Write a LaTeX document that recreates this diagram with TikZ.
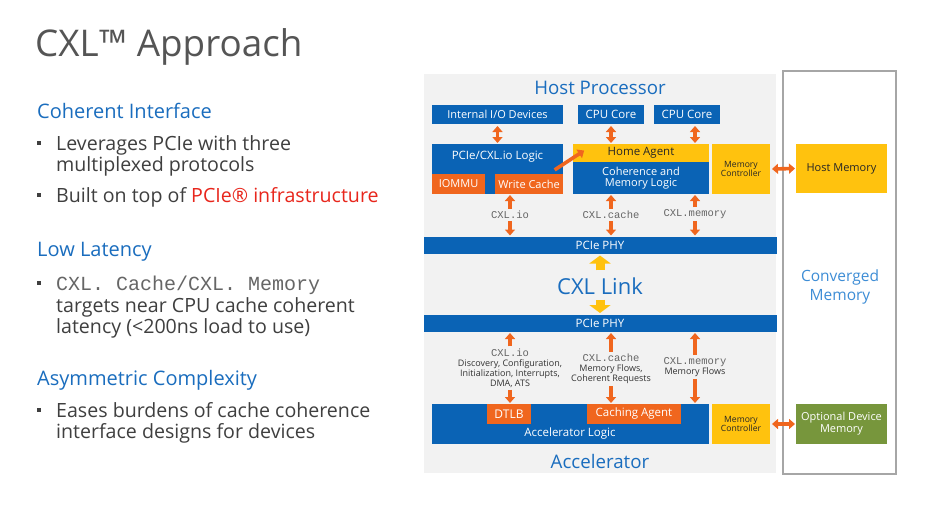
\documentclass[tikz,border=0pt]{standalone}
\usepackage{fontspec}
\setmainfont{Open Sans}
\setmonofont{Liberation Mono}
\usetikzlibrary{arrows.meta,positioning,calc}
\definecolor{cxlblue}{HTML}{0A63B5}
\definecolor{cxlorange}{HTML}{F0661E}
\definecolor{cxlyellow}{HTML}{FFC20E}
\definecolor{cxlgreen}{HTML}{77963C}
\definecolor{headblue}{HTML}{1A6DBE}
\definecolor{lightblue}{HTML}{3D8DD6}
\definecolor{titlegray}{HTML}{555555}
\definecolor{bodygray}{HTML}{3F3F3F}
\definecolor{protogray}{HTML}{666666}
\definecolor{panelgray}{HTML}{F2F2F2}
\definecolor{pcired}{HTML}{E8261C}
\newcommand*{\bulletsq}[1]{\fill[bodygray] (37,#1-9) rectangle (41,#1-5);}

\begin{document}
\begin{tikzpicture}[x=1pt, y=-1pt,
    box/.style={inner sep=0pt, outer sep=0pt, align=center, text=white, font=\fontsize{11.5}{12}\selectfont},
    bluebox/.style={box, fill=cxlblue},
    orangebox/.style={box, fill=cxlorange},
    yellowbox/.style={box, fill=cxlyellow, text=black!85},
    greenbox/.style={box, fill=cxlgreen},
    tinybox/.style={font=\fontsize{8.6}{9}\selectfont},
    link/.style={draw=cxlorange, line width=3.6pt, -{Triangle[width=10pt,length=6pt]}, shorten >=1pt, shorten <=2pt},
    dlink/.style={link, {Triangle[width=10pt,length=6pt]}-{Triangle[width=10pt,length=6pt]}},
    ylink/.style={draw=cxlyellow, line width=9pt, -{Triangle[width=21pt,length=8pt]}},
    proto/.style={inner sep=0pt, font=\ttfamily\fontsize{10.5}{11}\selectfont, text=protogray},
    note/.style={inner sep=0pt, align=center, font=\fontsize{9}{10}\selectfont, text=black!80},
    heading/.style={anchor=base west, inner sep=0pt, text=headblue, font=\fontsize{20}{24}\selectfont},
    body/.style={anchor=base west, inner sep=0pt, text=bodygray, font=\fontsize{19.6}{22}\selectfont},
    caption/.style={inner sep=0pt, text=headblue, font=\fontsize{18.7}{20}\selectfont}]
    \useasboundingbox (0,0) rectangle (937,504);
    \fill[white] (0,0) rectangle (937,504);

    % left column
    \node[anchor=base west, inner sep=0pt, text=titlegray, font=\fontsize{36.8}{40}\selectfont]
        (title) at (35,56) {CXL™ Approach};
    \node[heading] (coh) at (37,118) {Coherent Interface};
    \bulletsq{150}
    \node[body] (lev1) at (56,150) {Leverages PCIe with three};
    \node[body] (lev2) at (56,171) {multiplexed protocols};
    \bulletsq{202}
    \node[body] (built) at (56,202) {Built on top of \textcolor{pcired}{PCIe® infrastructure}};
    \node[heading] (lat) at (37,256) {Low Latency};
    \bulletsq{290}
    \node[body, text=protogray, font=\ttfamily\fontsize{20}{22}\selectfont] (lat1) at (56,290) {CXL. Cache/CXL. Memory};
    \node[body] (lat2) at (56,312) {targets near CPU cache coherent};
    \node[body] (lat3) at (56,333) {latency (<200ns load to use)};
    \node[heading] (asym) at (37,385) {Asymmetric Complexity};
    \bulletsq{417}
    \node[body] (eas1) at (56,417) {Eases burdens of cache coherence};
    \node[body] (eas2) at (56,438) {interface designs for devices};

    % diagram
    \fill[panelgray] (424,74) rectangle (776,473);
    \draw[black!35, line width=1.3pt] (783,71) rectangle (896,474);
    \node[caption] (hostp) at (600,88) {Host Processor};
    \node[caption] (accel) at (600,461) {Accelerator};
    \node[caption, text=lightblue, align=center, font=\fontsize{15.5}{19}\selectfont] (conv) at (840,287) {Converged\\Memory};

    \node[bluebox, minimum width=131, minimum height=19, font=\fontsize{11}{12}\selectfont] (iodev) at (497.5,114.5) {Internal I/O Devices};
    \node[bluebox, minimum width=66, minimum height=19] (core1) at (611,114.5) {CPU Core};
    \node[bluebox, minimum width=66, minimum height=19] (core2) at (687,114.5) {CPU Core};
    \node[bluebox, minimum width=131, minimum height=50] (iologic) at (497.5,169) {};
    \node[box] (iologictext) at (497.5,157) {PCIe/CXL.io Logic};
    \node[orangebox, minimum width=53, minimum height=20, font=\fontsize{11}{12}\selectfont] (iommu) at (458.5,184) {IOMMU};
    \node[orangebox, minimum width=68, minimum height=20, font=\fontsize{11}{12}\selectfont] (wcache) at (529,184) {Write Cache};
    \node[yellowbox, minimum width=136, minimum height=18] (home) at (641,153) {Home Agent};
    \node[bluebox, minimum width=136, minimum height=32, font=\fontsize{11}{10.5}\selectfont] (cohlogic) at (641,178) {Coherence and\\Memory Logic};
    \node[yellowbox, tinybox, minimum width=58, minimum height=50] (hmc) at (741,169) {Memory\\Controller};
    \node[yellowbox, minimum width=91, minimum height=49, font=\fontsize{11}{12}\selectfont] (hostmem) at (841.5,168.5) {Host Memory};

    \node[proto] (hio) at (510,215) {CXL.io};
    \node[proto] (hcache) at (611,215) {CXL.cache};
    \node[proto] (hmem) at (695,214) {CXL.memory};
    \node[bluebox, minimum width=353, minimum height=17] (phytop) at (600,245) {PCIe PHY};

    \node[caption, font=\fontsize{22}{24}\selectfont] (cxllink) at (600,286) {CXL Link};
    \node[bluebox, minimum width=353, minimum height=17] (phybot) at (600,323.5) {PCIe PHY};

    \node[note] (aio) at (510,368) {{\ttfamily\color{protogray}\fontsize{10.5}{10}\selectfont CXL.io}\\Discovery, Configuration,\\Initialization, Interrupts,\\DMA, ATS};
    \node[note] (acache) at (611,369) {{\ttfamily\color{protogray}\fontsize{10.5}{10}\selectfont CXL.cache}\\Memory Flows,\\Coherent Requests};
    \node[note] (amem) at (695,367) {{\ttfamily\color{protogray}\fontsize{10.5}{10}\selectfont CXL.memory}\\Memory Flows};

    \node[bluebox, minimum width=277, minimum height=40] (acclogic) at (570.5,424) {};
    \node[box] (acclogictext) at (570,434) {Accelerator Logic};
    \node[orangebox, minimum width=44, minimum height=20, font=\fontsize{12}{12}\selectfont] (dtlb) at (509,414) {DTLB};
    \node[orangebox, minimum width=94, minimum height=20] (cagent) at (634,414) {Caching Agent};
    \node[yellowbox, tinybox, minimum width=58, minimum height=40] (amc) at (741,424) {Memory\\Controller};
    \node[greenbox, minimum width=91, minimum height=40, font=\fontsize{11}{12}\selectfont] (devmem) at (841.5,424) {Optional Device\\Memory};

    % connectors
    \draw[dlink] (iodev.south) -- (iologic.north);
    \draw[dlink] (core1.south) -- (core1.south |- home.north);
    \draw[dlink] ($(core2.south)+(8,0)$) -- ($(core2.south |- home.north)+(8,0)$);
    \draw[link] ($(wcache.north east)+(-10,-3)$) -- ($(home.west)+(12,-3)$);
    \draw[dlink] (hmc.east) -- (hostmem.west);
    \draw[dlink] (amc.east) -- (devmem.west);

    \draw[link] (hio.north) -- (hio.north |- iologic.south);
    \draw[link] (hcache.north) -- (hcache.north |- cohlogic.south);
    \draw[link] (hmem.north) -- (hmem.north |- cohlogic.south);
    \draw[link] (hio.south) -- (hio.south |- phytop.north);
    \draw[link] (hcache.south) -- (hcache.south |- phytop.north);
    \draw[link] (hmem.south) -- (hmem.south |- phytop.north);

    \draw[ylink] ($(cxllink.north)+(0,-7)$) -- ($(phytop.south)+(0,2)$);
    \draw[ylink] ($(cxllink.south)+(0,5)$) -- ($(phybot.north)+(0,-2)$);

    \draw[link] (aio.north) -- (aio.north |- phybot.south);
    \draw[link] (acache.north) -- (acache.north |- phybot.south);
    \draw[link] (amem.north) -- (amem.north |- phybot.south);
    \draw[link] (aio.south) -- (aio.south |- acclogic.north);
    \draw[link] (acache.south) -- (acache.south |- acclogic.north);
    \draw[link] (amem.south) -- (amem.south |- acclogic.north);
\end{tikzpicture}
\end{document}
